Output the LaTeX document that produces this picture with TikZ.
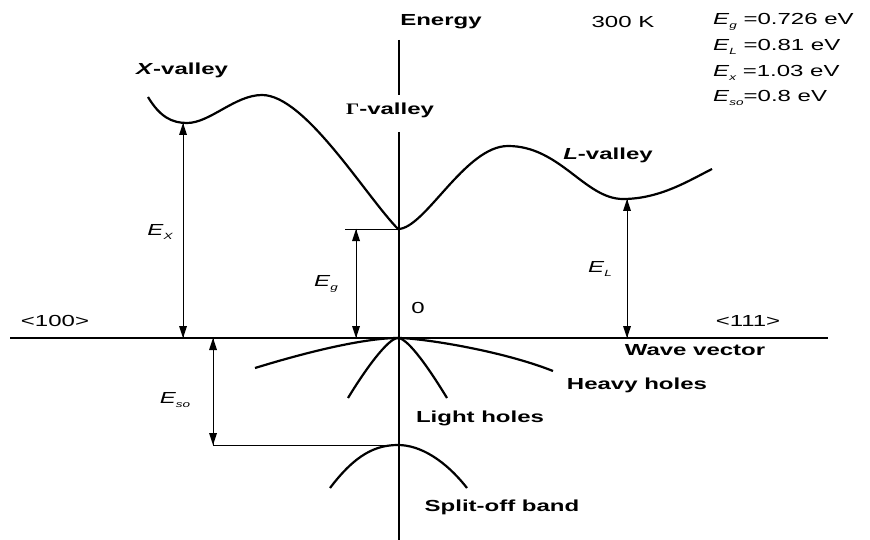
\documentclass[tikz,border=0pt]{standalone}
\usepackage{fontspec}
\setmainfont{Liberation Sans}[FakeStretch=1.5]
\newfontfamily\gammafont{Liberation Serif}[FakeStretch=1.3]
\usetikzlibrary{arrows.meta}
\newcommand\Elab[1]{\textit{E}\raisebox{-0.5ex}{\fontsize{9}{9}\selectfont\itshape #1}}
\begin{document}
\begin{tikzpicture}[x=1pt,y=-1pt,
  lbl/.style={font=\fontsize{16}{18}\selectfont\bfseries, inner sep=0pt},
  plain/.style={font=\fontsize{16}{18}\selectfont, inner sep=0pt},
  band/.style={line width=2.2pt},
  axis/.style={line width=2.4pt},
  gap/.style={line width=1pt},
  tipup/.style={fill=black},
  level/.style={line width=0.8pt}]
\useasboundingbox (0,0) rectangle (870,540);
% axes
\coordinate (vtop) at (399,40);
\coordinate (vmid1) at (399,95);
\coordinate (vmid2) at (399,132);
\coordinate (vbot) at (399,540);
\coordinate (hl) at (10,338);
\coordinate (hr) at (828,338);
\draw[axis] (vtop) -- (vmid1);
\draw[axis] (vmid2) -- (vbot);
\draw[line width=1.8pt] (hl) -- (hr);
% texts
\node[lbl] (energy) at (441,22) {Energy};
\node[plain] (temp) at (623,22) {300 K};
\node[plain, anchor=west] (l1) at (713,22) {\Elab{g} =0.726 eV};
\node[plain, anchor=west] (l2) at (713,47) {\Elab{L} =0.81 eV};
\node[plain, anchor=west] (l3) at (713,73) {\Elab{x} =1.03 eV};
\node[plain, anchor=west] (l4) at (713,98) {\Elab{so}=0.8 eV};
\node[lbl] (xv) at (182,70) {\textit{X}-valley};
\node[lbl] (gv) at (390,110) {{\gammafont\bfseries\char"0393}-valley};
\node[lbl] (lv) at (608,155) {\textit{L}-valley};
\node[plain] (zero) at (418,308) {0};
\node[plain] (d100) at (55,321) {<100>};
\node[plain] (d111) at (748,321) {<111>};
\node[lbl] (wv) at (695,350) {Wave vector};
\node[lbl] (hh) at (637,385) {Heavy holes};
\node[lbl] (lh) at (480,418) {Light holes};
\node[lbl] (so) at (502,507) {Split-off band};
\node[plain] (ex) at (160,232) {\Elab{X}};
\node[plain] (eg) at (326,284) {\Elab{g}};
\node[plain] (el) at (600,269) {\Elab{L}};
\node[plain] (eso) at (175,400) {\Elab{so}};
% conduction band
\draw[band] (148,97) .. controls (160,117) and (172,123) .. (187,123)
  .. controls (210,123) and (235,95) .. (262,95)
  .. controls (305,95) and (365,195) .. (398,229)
  .. controls (425,229) and (465,146) .. (508,146)
  .. controls (560,146) and (585,199) .. (623,199)
  .. controls (660,199) and (690,180) .. (712,169);
% valence bands
\draw[band] (255,368) .. controls (330,345) and (375,338) .. (398,338)
  .. controls (420,338) and (500,350) .. (553,371);
\draw[band] (348,398) .. controls (365,370) and (388,338) .. (398,338)
  .. controls (408,338) and (430,370) .. (447,398);
\draw[band] (330,488) .. controls (355,455) and (375,445) .. (398,445)
  .. controls (420,445) and (445,460) .. (467,488);
% gaps
\coordinate (xmin) at (183,123);
\coordinate (xbase) at (183,338);
\coordinate (gtop) at (356,229);
\coordinate (gbase) at (356,338);
\coordinate (gl) at (345,229);
\coordinate (gmin) at (398,229);
\coordinate (lmin) at (627,199);
\coordinate (lbase) at (627,338);
\coordinate (sotop) at (213,338);
\coordinate (sobot) at (213,445);
\coordinate (sopeak) at (398,445);
\draw[level] (gl) -- (gmin);
\draw[level] (sobot) -- (sopeak);
\foreach \a/\b in {xmin/xbase, gtop/gbase, lmin/lbase, sotop/sobot}{
  \draw[gap] (\a) -- (\b);
  \fill[tipup] (\a) -- ++(-4,12) -- ++(8,0) -- cycle;
  \fill[tipup] (\b) -- ++(-4,-12) -- ++(8,0) -- cycle;
}
\end{tikzpicture}
\end{document}
